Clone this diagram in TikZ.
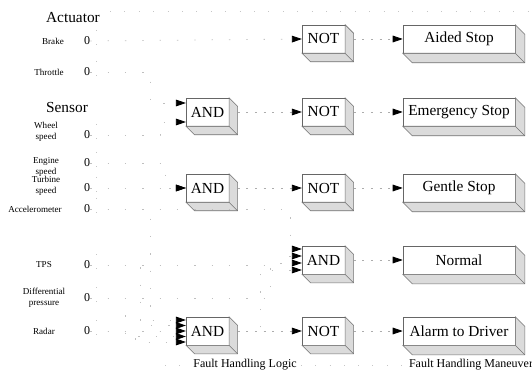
\documentclass[tikz,border=0pt]{standalone}
\usepackage{fontspec}
\setmainfont{Liberation Serif}
\usetikzlibrary{arrows.meta,calc}
\newcommand\mkfaces[2]{%
  \filldraw[face] (#1.south west) -- ($(#1.south west)+(#2,#2)$) -- ($(#1.south east)+(#2,#2)$) -- ($(#1.north east)+(#2,#2)$) -- (#1.north east) -- (#1.south east) -- cycle;
  \draw[faceedge] (#1.south east) -- ++(#2,#2);}
\begin{document}
\begin{tikzpicture}[x=0.75pt,y=-0.75pt,
  big/.style={font=\fontsize{11.5}{13}\selectfont, inner sep=0},
  lbl/.style={font=\fontsize{6.8}{8.2}\selectfont, align=center, inner sep=0},
  zero/.style={font=\fontsize{9}{10}\selectfont, inner sep=0},
  foot/.style={font=\fontsize{9}{10}\selectfont, inner sep=0},
  gate/.style={draw=black!60, line width=0.4pt, fill=white, minimum width=32pt, minimum height=21pt, inner sep=0, font=\fontsize{11.5}{13}\selectfont},
  result/.style={gate, minimum width=84pt},
  face/.style={fill=gray!28, draw=black!55, line width=0.4pt},
  faceedge/.style={draw=black!55, line width=0.4pt},
  conn/.style={draw=gray!50, line width=0.6pt, dash pattern=on 1pt off 12pt},
  conn2/.style={draw=gray!65, line width=0.6pt, dash pattern=on 1.5pt off 5pt},
  faint/.style={draw=gray!45, line width=0.5pt, dash pattern=on 0.8pt off 10pt},
  tip/.style={-{Triangle[length=7.5pt,width=5pt,color=black]}}]
\useasboundingbox (0,0) rectangle (532,381);

% ---- left labels
\node[big] (actuator) at (73,18) {Actuator};
\node[big] (sensor) at (67,108) {Sensor};
\node[lbl] (brake) at (53,41) {Brake};
\node[lbl] (throttle) at (49,72) {Throttle};
\node[lbl] (wheel) at (46,132) {Wheel\\speed};
\node[lbl] (engine) at (46,167) {Engine\\speed};
\node[lbl] (turbine) at (46,186) {Turbine\\speed};
\node[lbl] (accel) at (35,209) {Accelerometer};
\node[lbl] (tps) at (44,265) {TPS};
\node[lbl] (diff) at (44,298) {Differential\\pressure};
\node[lbl] (radar) at (44,331) {Radar};

\node[zero] (brake0) at (87,41) {0};
\node[zero] (throttle0) at (87,72) {0};
\node[zero] (wheel0) at (87,135) {0};
\node[zero] (engine0) at (87,163) {0};
\node[zero] (turbine0) at (87,188) {0};
\node[zero] (accel0) at (87,209) {0};
\node[zero] (tps0) at (87,265) {0};
\node[zero] (diff0) at (87,298) {0};
\node[zero] (radar0) at (87,331) {0};

\foreach \z in {brake0,throttle0,wheel0,engine0,turbine0,accel0,tps0,diff0,radar0}
  {\draw[faint] ($(\z.east)+(6,-11)$) -- ($(\z.east)+(6,11)$);}

% ---- gates
\node[gate] (not1) at (323.5,39) {NOT};
\node[result] (aided) at (459,39) {Aided Stop};

\node[gate] (and2) at (207.5,112) {AND};
\node[gate] (not2) at (323.5,112) {NOT};
\node[result] (emerg) at (459,112) {Emergency Stop};

\node[gate] (and3) at (207.5,188) {AND};
\node[gate] (not3) at (323.5,188) {NOT};
\node[result] (gentle) at (459,188) {Gentle Stop};

\node[gate] (and4) at (323.5,260) {AND};
\node[result] (normal) at (459,260) {Normal};

\node[gate] (and5) at (207.5,331) {AND};
\node[gate] (not5) at (323.5,331) {NOT};
\node[result] (alarm) at (459,331) {Alarm to Driver};

\foreach \g in {not1,and2,not2,and3,not3,and4,and5,not5} {\mkfaces{\g}{8.5}}
\foreach \g in {aided,emerg,gentle,normal,alarm} {\mkfaces{\g}{9.5}}

% ---- input coordinates
\coordinate (a2i1) at ($(and2.west)+(0,-9)$);
\coordinate (a2i2) at ($(and2.west)+(0,10)$);
\coordinate (a4i1) at ($(and4.west)+(0,-11)$);
\coordinate (a4i2) at ($(and4.west)+(0,-4)$);
\coordinate (a4i3) at ($(and4.west)+(0,3)$);
\coordinate (a4i4) at ($(and4.west)+(0,10)$);
\coordinate (a5i1) at ($(and5.west)+(0,-11)$);
\coordinate (a5i2) at ($(and5.west)+(0,-5.5)$);
\coordinate (a5i3) at (and5.west);
\coordinate (a5i4) at ($(and5.west)+(0,5.5)$);
\coordinate (a5i5) at ($(and5.west)+(0,11)$);
\foreach \n/\x in {t1/150,t2/160,t3/165,t4/290,t5/280,t6/270,t7/260,t8/150,t9/140,t10/125,t11/135}
  {\coordinate (\n) at (\x,0);}

% ---- connectors
\draw[conn,tip] (brake0.east) -- (not1.west);
\draw[conn,tip] (throttle0.east) -| (t1 |- a2i1) -- (a2i1);
\draw[conn,tip] (wheel0.east) -| (t2 |- a2i2) -- (a2i2);
\draw[conn,tip] (engine0.east) -| (t3 |- and3.west) -- (and3.west);
\draw[conn,tip] (turbine0.east) -- (and3.west);
\draw[conn,tip] (accel0.east) -| (t4 |- a4i1) -- (a4i1);
\draw[conn,tip] (tps0.east) -| (t5 |- a4i2) -- (a4i2);
\draw[conn,tip] (diff0.east) -| (t6 |- a4i3) -- (a4i3);
\draw[conn,tip] (radar0.east) -| (t7 |- a4i4) -- (a4i4);
\draw[conn,tip] (accel0.east) -| (t8 |- a5i1) -- (a5i1);
\draw[conn,tip] (tps0.east) -| (t9 |- a5i2) -- (a5i2);
\draw[conn,tip] (radar0.east) -- (a5i3);
\draw[conn,tip] (diff0.east) -| (t10 |- a5i4) -- (a5i4);
\draw[conn,tip] (radar0.east) -| (t11 |- a5i5) -- (a5i5);

\draw[conn2,tip] ($(not1.east)+(8.5,0)$) -- (aided.west);
\draw[conn2,tip] ($(and2.east)+(8.5,0)$) -- (not2.west);
\draw[conn2,tip] ($(not2.east)+(8.5,0)$) -- (emerg.west);
\draw[conn2,tip] ($(and3.east)+(8.5,0)$) -- (not3.west);
\draw[conn2,tip] ($(not3.east)+(8.5,0)$) -- (gentle.west);
\draw[conn2,tip] ($(and4.east)+(8.5,0)$) -- (normal.west);
\draw[conn2,tip] ($(and5.east)+(8.5,0)$) -- (not5.west);
\draw[conn2,tip] ($(not5.east)+(8.5,0)$) -- (alarm.west);

% ---- bottom labels and faint guide lines
\node[foot] (logic) at (245,365) {Fault Handling Logic};
\node[foot] (maneuver) at (471,365) {Fault Handling Maneuver};
\coordinate (topL) at (110,11);
\coordinate (topR) at (530,11);
\coordinate (botL) at (165,365);
\coordinate (botM) at (358,365);
\draw[faint] (topL) -- (topR);
\draw[faint] (botL) -- ($(logic.west)+(-4,0)$);
\draw[faint] ($(logic.east)+(4,0)$) -- (botM);
\draw[faint] (botM) -- ($(maneuver.west)+(-4,0)$);
\end{tikzpicture}
\end{document}
